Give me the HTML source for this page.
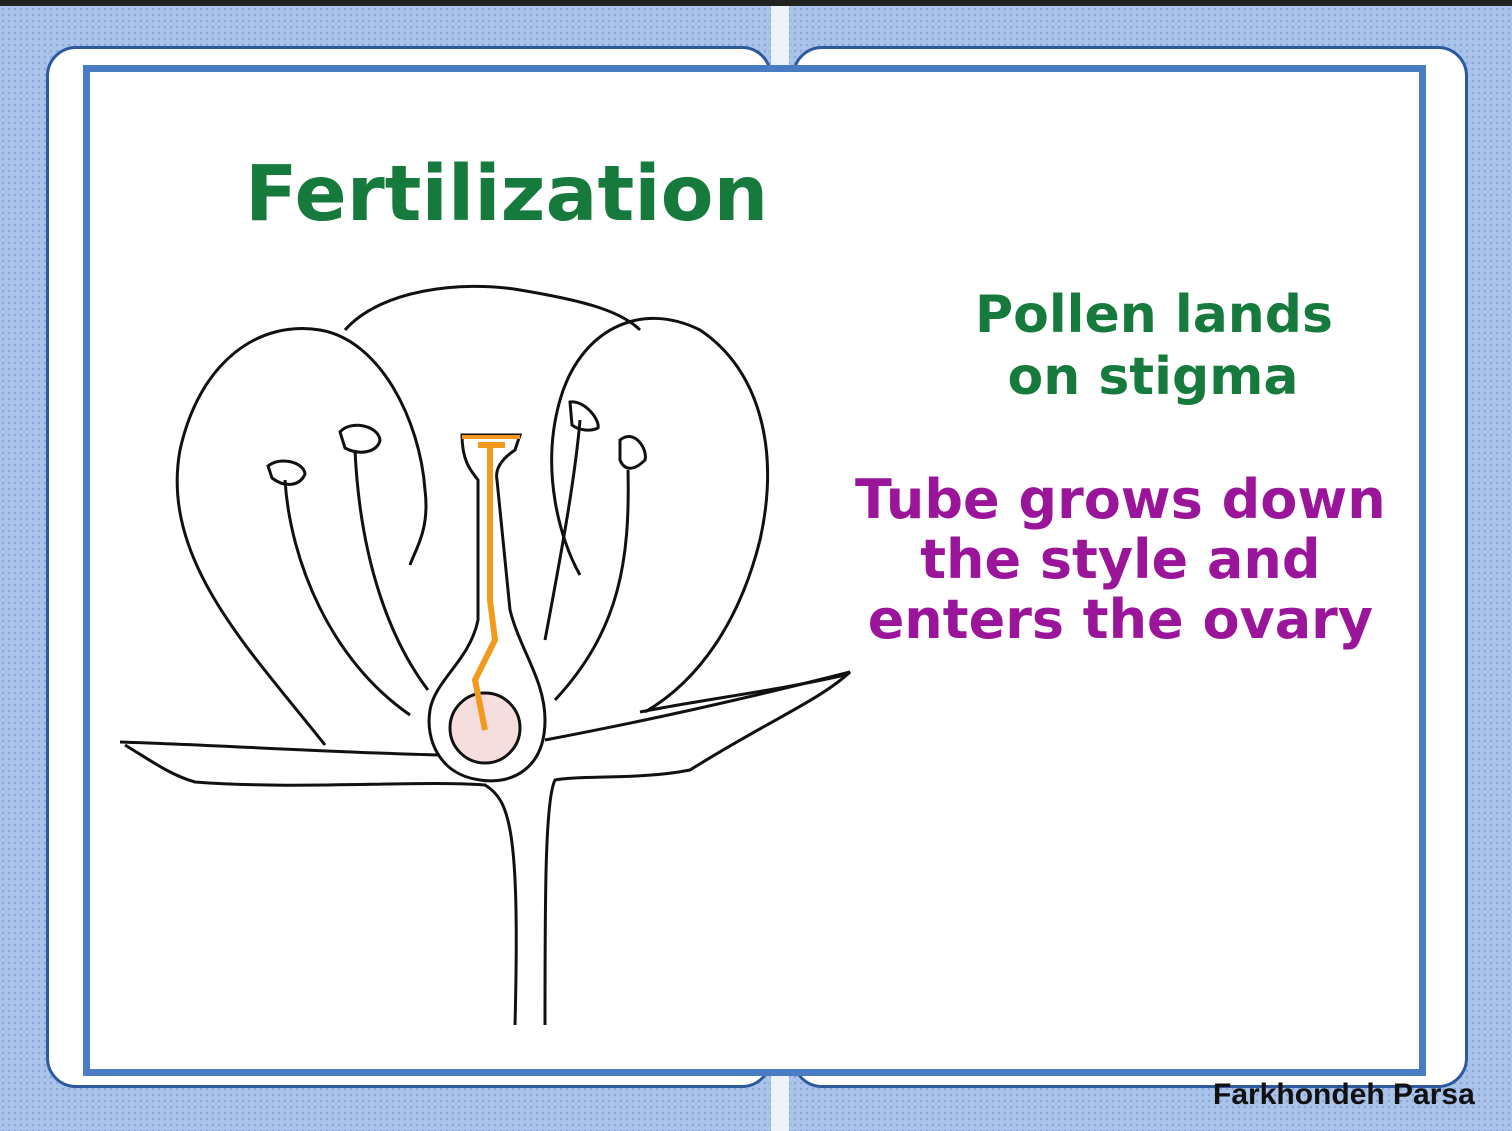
<!DOCTYPE html>
<html><head><style>
html,body{margin:0;padding:0}
body{width:1512px;height:1131px;position:relative;overflow:hidden;background:#a9c3ea;
background-image:radial-gradient(#8aa6d6 1px,transparent 1.5px);background-size:6px 6px;font-family:"DejaVu Sans","Liberation Sans",sans-serif}
.top{position:absolute;left:0;top:0;width:1512px;height:6px;background:#222}
.p{position:absolute;background:#fff;border:3px solid #2d5a9e;border-radius:30px}
.strip{position:absolute;left:771px;top:6px;width:18px;height:1125px;background:#eef3fb}
.inner{position:absolute;left:83px;top:65px;width:1329px;height:997px;border:7px solid #4a7cc4;background:#fff}
.t{position:absolute;font-weight:bold;white-space:nowrap}
</style></head><body>
<div class="top"></div>
<div class="strip"></div>
<div class="p" style="left:46px;top:46px;width:720px;height:1036px"></div>
<div class="p" style="left:792px;top:46px;width:670px;height:1036px"></div>
<div class="inner"></div>
<div class="t" style="left:245px;top:150px;font-size:77px;color:#157a3c">Fertilization</div>
<div class="t" style="left:975px;top:284px;font-size:52px;color:#157a3c;line-height:62px;text-align:center;width:356px">Pollen lands<br>on stigma</div>
<div class="t" style="left:855px;top:470px;font-size:54px;color:#9a159a;line-height:60px;text-align:center">Tube grows down<br>the style and<br>enters the ovary</div>
<div class="t" style="left:1213px;top:1078px;font-size:30px;color:#111;font-family:'Liberation Sans',sans-serif">Farkhondeh Parsa</div>
<svg width="1512" height="1131" style="position:absolute;left:0;top:0" fill="none" stroke="#111" stroke-width="3">
<path d="M325 745 C250 650 160 560 180 450 C200 360 260 320 320 330 C380 340 420 420 425 490 C430 530 415 550 410 565"/>
<path d="M345 330 C380 290 460 280 520 290 C580 300 620 310 640 330"/>
<path d="M580 575 C560 540 540 470 560 400 C580 330 640 300 700 330 C760 370 780 450 760 540 C740 620 700 680 645 712"/>
<path d="M428 690 C390 640 360 560 355 450"/><path d="M340 432 C350 420 378 425 380 440 C378 452 360 456 345 448 Z"/>
<path d="M410 715 C330 660 290 560 285 480"/><path d="M268 466 C280 456 304 462 305 474 C300 486 285 488 272 478 Z"/>
<path d="M545 640 C560 560 575 480 580 420"/><path d="M570 402 C585 400 600 420 598 428 C590 432 578 430 572 425 Z"/>
<path d="M555 700 C620 630 630 560 628 470"/><path d="M620 440 C635 428 648 450 645 460 C635 470 625 472 620 460 Z"/>
<path d="M462 435 L520 435 L515 450 C500 460 495 470 497 480 L510 610 C520 650 545 680 545 720 C545 770 510 785 480 780 C440 775 425 740 430 710 C435 680 470 660 478 620 L478 480 C470 470 462 460 462 435 Z"/>
<circle cx="485" cy="728" r="35" fill="#f7dede"/>
<path d="M478 445 L505 445 M490 447 L490 600 L495 640 L475 680 L485 730" stroke="#f39a1e" stroke-width="6"/>
<path d="M462 437 L520 437" stroke="#f39a1e" stroke-width="4"/>
<path d="M120 742 C220 745 320 752 440 755"/>
<path d="M125 745 C150 760 170 775 195 782 C300 790 420 780 485 785 C510 800 520 830 515 1025"/>
<path d="M545 740 C650 720 740 700 850 672 C820 700 770 720 690 770 C640 780 580 775 555 780 C545 800 545 900 545 1025"/>
<path d="M640 712 C700 700 780 690 845 675"/>
</svg>
</body></html>
